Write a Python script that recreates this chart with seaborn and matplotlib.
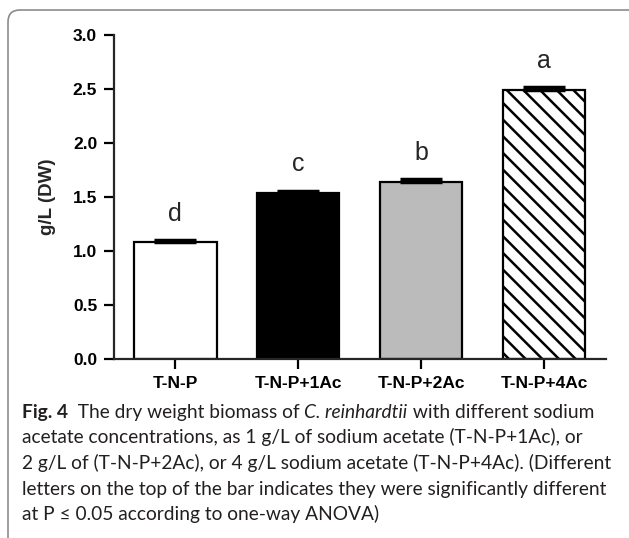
import numpy as np
import matplotlib
matplotlib.use('Agg')
import matplotlib.pyplot as plt
import seaborn as sns
from matplotlib.patches import FancyBboxPatch
from matplotlib.transforms import IdentityTransform

groups = ['T-N-P', 'T-N-P+1Ac', 'T-N-P+2Ac', 'T-N-P+4Ac']
biomass = [1.08, 1.54, 1.64, 2.49]
sem = [0.02, 0.015, 0.025, 0.025]
letters = ['d', 'c', 'b', 'a']
bar_colors = ['white', 'black', '#bbbbbb', 'white']

caption_rest = [
    'acetate concentrations, as 1 g/L of sodium acetate (T-N-P+1Ac), or',
    '2 g/L of (T-N-P+2Ac), or 4 g/L sodium acetate (T-N-P+4Ac). (Different',
    'letters on the top of the bar indicates they were significantly different',
    'at P \u2264 0.05 according to one-way ANOVA)',
]

sns.set_style('ticks')
plt.rcParams['font.family'] = ['Liberation Sans', 'DejaVu Sans']
plt.rcParams['hatch.linewidth'] = 1.8

fig = plt.figure(figsize=(6.29, 5.38), dpi=100)
ax = fig.add_axes([0.181, 0.333, 0.782, 0.602])

sns.barplot(x=groups, y=biomass, hue=groups, palette=bar_colors, legend=False,
            width=0.67, edgecolor='black', linewidth=1.6, saturation=1,
            errorbar=None, ax=ax)
ax.patches[3].set_hatch('\\\\')

ax.errorbar(range(len(groups)), biomass, yerr=[np.zeros(len(sem)), sem], fmt='none',
            ecolor='black', elinewidth=1.6, capsize=15, capthick=2.5, zorder=3)

for i, lab in enumerate(letters):
    ax.text(i, biomass[i] + 0.2, lab, ha='center', va='baseline', fontsize=18)

ax.set_xlim(-0.5, 3.5)
ax.set_ylim(0, 3.0)
ax.set_yticks(np.arange(0, 3.01, 0.5))
ax.set_yticklabels([f'{v:.1f}' for v in np.arange(0, 3.01, 0.5)], fontweight='bold', fontsize=12.5)
ax.set_xticks(range(len(groups)))
ax.set_xticklabels(groups, fontweight='bold', fontsize=12.5)
ax.set_ylabel('g/L (DW)', fontweight='bold', fontsize=13.5, labelpad=12)
ax.set_xlabel('')
sns.despine(ax=ax)
for s in ['left', 'bottom']:
    ax.spines[s].set_linewidth(1.6)
ax.tick_params(axis='both', direction='out', length=7, width=1.6, pad=5, colors='black')

# caption
cap_font = ['Lato', 'DejaVu Sans']
cap_color = '#231f20'
cap_size = 13.8
x0 = 22
baselines = [418, 443.5, 469, 494.5, 520]
r = fig.canvas.get_renderer()

def put(x, y, s, **kw):
    t = fig.text(x / 629, 1 - y / 538, s, ha='left', va='baseline', color=cap_color,
                 fontsize=cap_size, family=cap_font, **kw)
    return x + t.get_window_extent(r).width

x = put(x0, baselines[0], 'Fig. 4', fontweight='bold')
x = put(x, baselines[0], '  The dry weight biomass of ')
x = put(x, baselines[0], 'C. reinhardtii', fontstyle='italic')
put(x, baselines[0], ' with different sodium')
for line, yb in zip(caption_rest, baselines[1:]):
    put(x0, yb, line)

box = FancyBboxPatch((8, -40), 700, 538 - 10 + 40, boxstyle='round,pad=0,rounding_size=12',
                     transform=IdentityTransform(), facecolor='none', edgecolor='#8c8c8c',
                     linewidth=1.2)
fig.patches.append(box)

fig.savefig('out.png', dpi=100)
